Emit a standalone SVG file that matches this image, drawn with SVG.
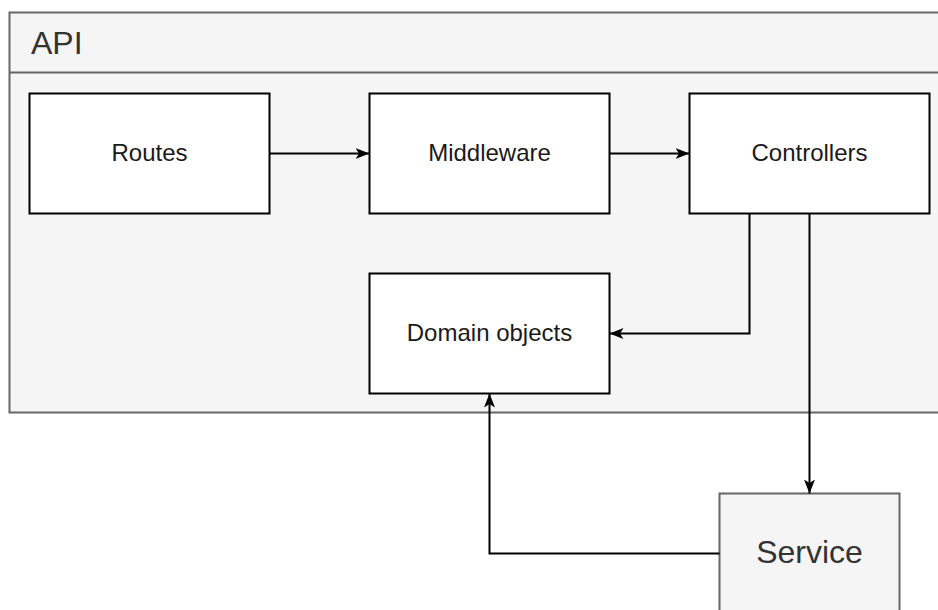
<svg xmlns="http://www.w3.org/2000/svg" width="938" height="610" viewBox="0 0 938 610">
  <style>
    .box { fill: #ffffff; stroke: #000000; stroke-width: 2; }
    .lbl { font-family: "Liberation Sans", Arial, sans-serif; font-size: 24px; fill: #1a1a1a; text-anchor: middle; }
    .edge { fill: none; stroke: #000000; stroke-width: 2; marker-end: url(#arrow); }
  </style>
  <defs>
    <marker id="arrow" markerUnits="userSpaceOnUse" markerWidth="16" markerHeight="14" refX="14" refY="7" orient="auto">
      <path d="M0,1.5 L14,7 L0,12.5 L3.5,7 Z" fill="#000000"/>
    </marker>
  </defs>
  <rect width="938" height="610" fill="#ffffff"/>
  <g id="api">
    <rect x="9.5" y="12.5" width="940" height="400" fill="#f5f5f5" stroke="#666666" stroke-width="2"/>
    <line x1="9.5" y1="72.5" x2="949.5" y2="72.5" stroke="#666666" stroke-width="2"/>
    <text x="31" y="54" font-family="Liberation Sans, Arial, sans-serif" font-size="32" fill="#333333">API</text>
  </g>
  <g id="routes">
    <rect class="box" x="29.5" y="93.5" width="240" height="120"/>
    <text class="lbl" x="149.5" y="161">Routes</text>
  </g>
  <g id="middleware">
    <rect class="box" x="369.5" y="93.5" width="240" height="120"/>
    <text class="lbl" x="489.5" y="161">Middleware</text>
  </g>
  <g id="controllers">
    <rect class="box" x="689.5" y="93.5" width="240" height="120"/>
    <text class="lbl" x="809.5" y="161">Controllers</text>
  </g>
  <g id="domain">
    <rect class="box" x="369.5" y="273.5" width="240" height="120"/>
    <text class="lbl" x="489.5" y="341">Domain objects</text>
  </g>
  <g id="service">
    <rect x="719.5" y="493.5" width="180" height="120" fill="#f5f5f5" stroke="#666666" stroke-width="2"/>
    <text x="809.5" y="563" font-family="Liberation Sans, Arial, sans-serif" font-size="32" fill="#333333" text-anchor="middle">Service</text>
  </g>
  <g id="connectors">
    <path class="edge" d="M269.5,153.5 L369.5,153.5"/>
    <path class="edge" d="M609.5,153.5 L689.5,153.5"/>
    <path class="edge" d="M749.5,213.5 L749.5,333.5 L609.5,333.5"/>
    <path class="edge" d="M809.5,213.5 L809.5,493.5"/>
    <path class="edge" d="M719.5,553.5 L489.5,553.5 L489.5,393.5"/>
  </g>
</svg>
